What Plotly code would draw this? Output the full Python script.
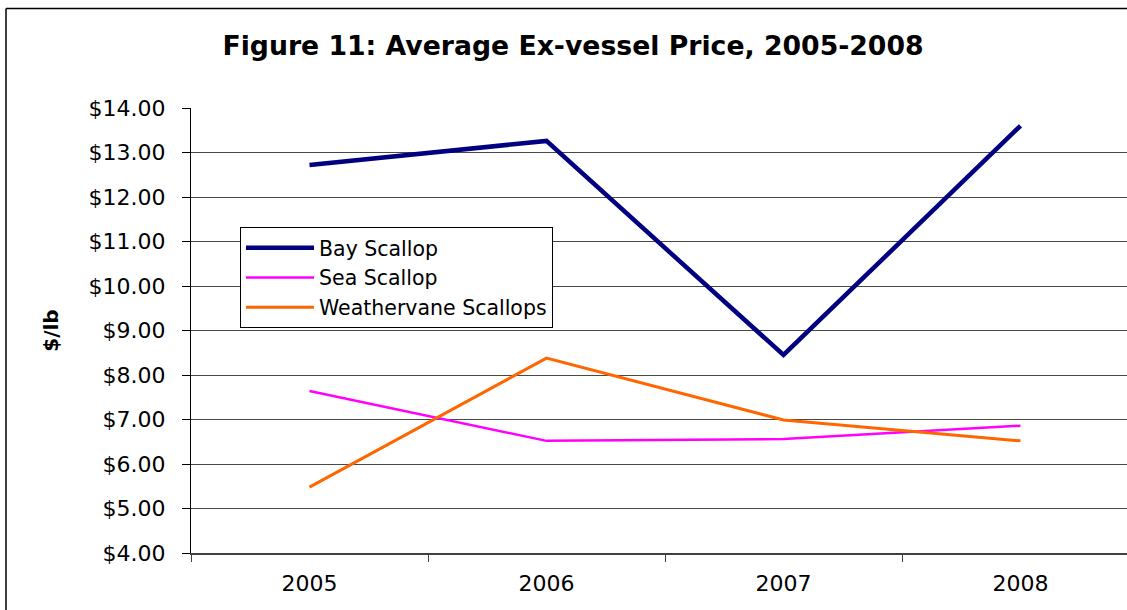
import plotly.graph_objects as go

years = ["2005", "2006", "2007", "2008"]
bay_scallop = [12.72, 13.26, 8.45, 13.60]
sea_scallop = [7.64, 6.52, 6.56, 6.86]
weathervane_scallops = [5.48, 8.38, 6.99, 6.52]
y_ticks = [4, 5, 6, 7, 8, 9, 10, 11, 12, 13, 14]
y_tick_labels = ["$%.2f" % v for v in y_ticks]

W, H = 1127, 610
L, R, T, B = 191, 0, 108, 57
pw = W - L - R
ph = H - T - B

fig = go.Figure()
fig.add_trace(go.Scatter(x=years, y=bay_scallop, mode="lines", name="Bay Scallop",
                         line=dict(color="#000080", width=4.5)))
fig.add_trace(go.Scatter(x=years, y=sea_scallop, mode="lines", name="Sea Scallop",
                         line=dict(color="#FF00FF", width=2.5)))
fig.add_trace(go.Scatter(x=years, y=weathervane_scallops, mode="lines", name="Weathervane Scallops",
                         line=dict(color="#FF6600", width=3)))

font_family = "DejaVu Sans, Liberation Sans, Arial, sans-serif"

fig.update_layout(
    width=W, height=H,
    margin=dict(l=L, r=R, t=T, b=B, pad=0),
    paper_bgcolor="white", plot_bgcolor="white",
    font=dict(family=font_family, color="black"),
    title=dict(text="<b>Figure 11: Average Ex-vessel Price, 2005-2008</b>",
               font=dict(size=26.7, family=font_family, color="black"),
               x=573 / W, xanchor="center", y=1 - 46 / H, yanchor="middle"),
    showlegend=True,
    legend=dict(x=(240 - L) / pw, y=(553 - 227) / ph, xanchor="left", yanchor="top",
                bgcolor="white", bordercolor="black", borderwidth=1,
                font=dict(size=20.5, family=font_family, color="black"),
                tracegroupgap=0, itemwidth=68),
    xaxis=dict(type="category", range=[-0.5, -0.5 + pw / 237.0],
               showgrid=False, showline=True, linecolor="#404040", linewidth=2,
               ticks="outside", tickson="boundaries", ticklen=7, tickcolor="#404040",
               tickwidth=1, tickfont=dict(size=22, family=font_family, color="black"),
               ticklabelstandoff=10, zeroline=False, fixedrange=True),
    yaxis=dict(range=[4, 14], tickmode="array", tickvals=y_ticks, ticktext=y_tick_labels,
               showgrid=True, gridcolor="#484848", gridwidth=1,
               showline=True, linecolor="black", linewidth=1,
               ticks="outside", ticklen=8, tickcolor="black",
               tickfont=dict(size=22, family=font_family, color="black"),
               ticklabelstandoff=12, zeroline=False,
               title=dict(text="<b>$/lb</b>", font=dict(size=20, family=font_family, color="black"),
                          standoff=24)),
)

# outer chart-area border (only top and left edges are visible in the reference)
x_left = (6 - L) / pw
y_top = (H - B - 8.5) / ph
fig.add_shape(type="line", xref="paper", yref="paper", x0=x_left, x1=1.2, y0=y_top, y1=y_top,
              line=dict(color="black", width=1.5))
fig.add_shape(type="line", xref="paper", yref="paper", x0=x_left, x1=x_left, y0=y_top, y1=-0.3,
              line=dict(color="black", width=1.5))

fig.write_html("out.html", config={"displayModeBar": False},
               post_script="document.body.style.margin='0px';document.body.style.overflow='hidden';")
